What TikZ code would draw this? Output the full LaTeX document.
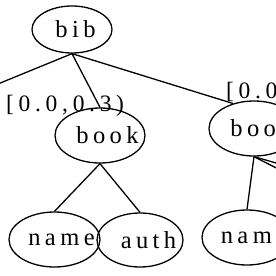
\documentclass[tikz,border=0pt]{standalone}
\usepackage{fontspec}
\setmainfont{Liberation Serif}
\newfontfamily\lsfont[LetterSpace=18]{Liberation Serif}
\newfontfamily\lbfont[LetterSpace=20]{Liberation Serif}
\newcommand\shifted[2]{\makebox[0pt]{\hspace{#1}#2}}
\usetikzlibrary{shapes.geometric}
\begin{document}
\begin{tikzpicture}[x=1pt,y=-1pt,
  nd/.style={draw,ellipse,line width=1.3pt,inner sep=0pt,font=\lsfont\fontsize{24.5}{28}\selectfont},
  lk/.style={line width=1.3pt},
  lbl/.style={font=\lbfont\fontsize{23.5}{27}\selectfont,inner sep=0pt}]
\useasboundingbox (0,0) rectangle (276,276);
\clip (0,0) rectangle (276,276);
\node[nd,minimum width=80pt,minimum height=47pt] (bib) at (72,29.5) {\shifted{7pt}{bib}};
\node[nd,minimum width=90pt,minimum height=55pt] (book) at (100,135.5) {\shifted{15pt}{book}};
\node[nd,minimum width=90pt,minimum height=55pt] (book2) at (254,128.5) {\shifted{15pt}{book}};
\node[nd,minimum width=91pt,minimum height=55pt] (name) at (54.5,239.5) {\shifted{14pt}{name}};
\node[nd,minimum width=86pt,minimum height=54pt] (auth) at (140,240) {\shifted{17pt}{auth}};
\node[nd,minimum width=90pt,minimum height=55pt] (nam) at (247,237.5) {\shifted{14pt}{name}};
\coordinate (lft) at (-20,91.3);
\coordinate (r1) at (290,167);
\coordinate (r2) at (290,175);
\draw[lk] (bib.south) -- (lft);
\draw[lk] (bib.south) -- (book.north);
\draw[lk] (bib.south) -- (book2.130);
\draw[lk] (book.south) -- (name.north);
\draw[lk] (book.south) -- (auth.north);
\draw[lk] (book2.south) -- (nam.north);
\draw[lk] (book2.south) -- (r1);
\draw[lk] (book2.south) -- (r2);
\node[lbl,anchor=base west] (l1) at (6,111) {[0.0,0.3)};
\node[lbl,anchor=base west] (l2) at (226,98) {[0.0,0.3)};
\end{tikzpicture}
\end{document}
